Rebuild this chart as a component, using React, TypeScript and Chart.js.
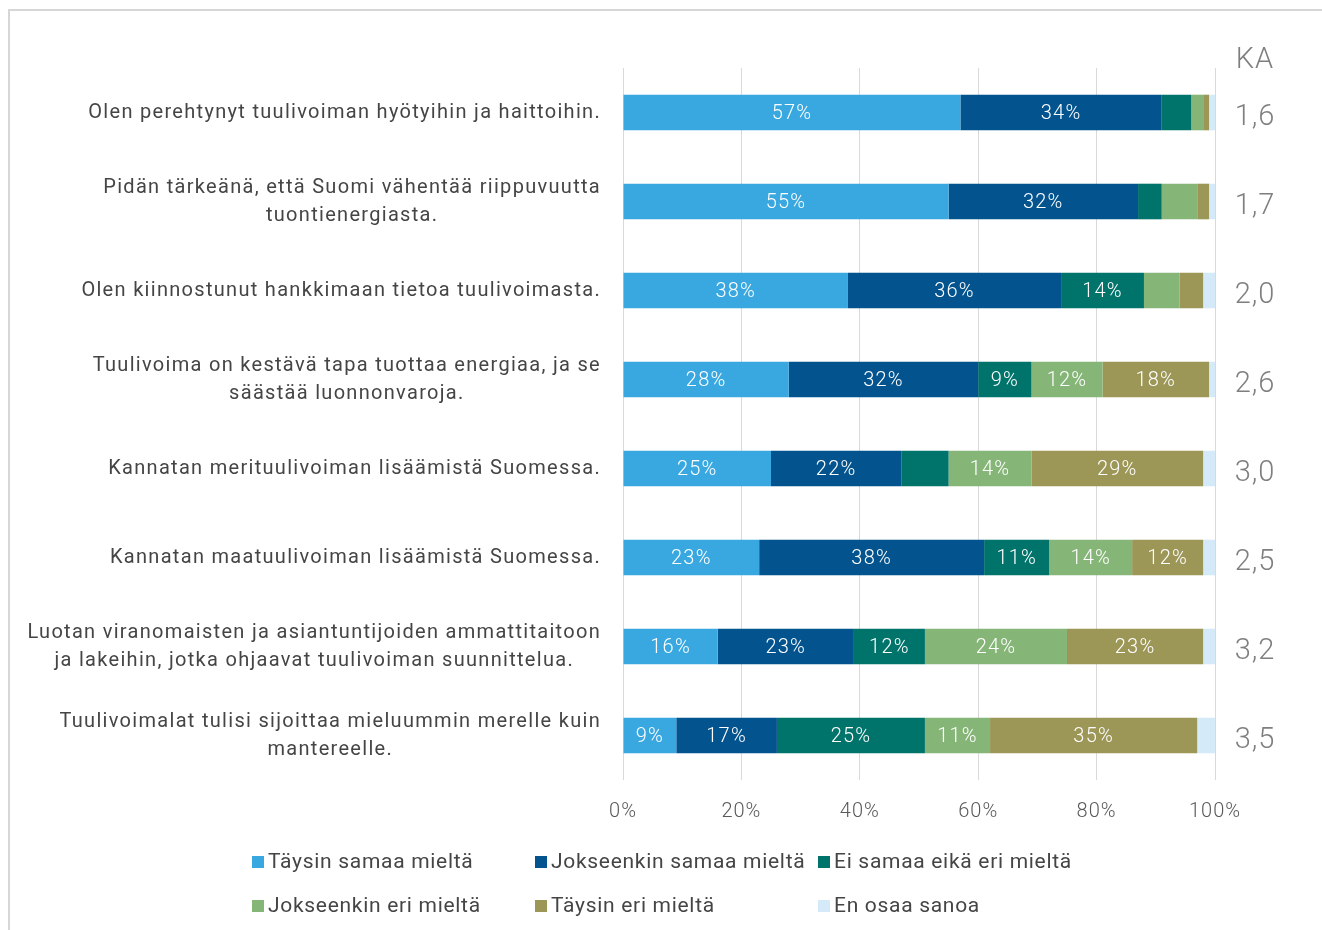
import React, { useEffect, useRef } from "react";
import { Chart, registerables } from "chart.js";

Chart.register(...registerables);

const categories: string[][] = [
  ["Olen perehtynyt tuulivoiman hyötyihin ja haittoihin."],
  ["Pidän tärkeänä, että Suomi vähentää riippuvuutta", "tuontienergiasta."],
  ["Olen kiinnostunut hankkimaan tietoa tuulivoimasta."],
  ["Tuulivoima on kestävä tapa tuottaa energiaa, ja se", "säästää luonnonvaroja."],
  ["Kannatan merituulivoiman lisäämistä Suomessa."],
  ["Kannatan maatuulivoiman lisäämistä Suomessa."],
  ["Luotan viranomaisten ja asiantuntijoiden ammattitaitoon", "ja lakeihin, jotka ohjaavat tuulivoiman suunnittelua."],
  ["Tuulivoimalat tulisi sijoittaa mieluummin merelle kuin", "mantereelle."],
];

const seriesNames = [
  "Täysin samaa mieltä",
  "Jokseenkin samaa mieltä",
  "Ei samaa eikä eri mieltä",
  "Jokseenkin eri mieltä",
  "Täysin eri mieltä",
  "En osaa sanoa",
];

const taysinSamaa = [57, 55, 38, 28, 25, 23, 16, 9];
const jokseenkinSamaa = [34, 32, 36, 32, 22, 38, 23, 17];
const eiSamaaEikaEri = [5, 4, 14, 9, 8, 11, 12, 25];
const jokseenkinEri = [2, 6, 6, 12, 14, 14, 24, 11];
const taysinEri = [1, 2, 4, 18, 29, 12, 23, 35];
const enOsaa = [1, 1, 2, 1, 2, 2, 2, 3];

const kaValues = ["1,6", "1,7", "2,0", "2,6", "3,0", "2,5", "3,2", "3,5"];
const kaTitle = "KA";

const xTicks = [0, 20, 40, 60, 80, 100];

const colors = ["#3AA8E0", "#03538E", "#00746A", "#85B577", "#9C9657", "#D5EAF8"];

const FONT = "Roboto, 'Noto Sans', sans-serif";

const spacingPlugin = {
  id: "spacing",
  beforeDraw(chart: any) {
    (chart.ctx as any).letterSpacing = "1px";
  },
};

const overlayPlugin = {
  id: "overlay",
  afterDatasetsDraw(chart: any) {
    const ctx = chart.ctx;
    const yScale = chart.scales.y;
    const area = chart.chartArea;
    ctx.save();

    // data labels
    ctx.letterSpacing = "1.2px";
    ctx.font = `300 20px ${FONT}`;
    ctx.fillStyle = "#ffffff";
    ctx.textAlign = "center";
    ctx.textBaseline = "middle";
    chart.data.datasets.forEach((ds: any, di: number) => {
      if (di === chart.data.datasets.length - 1) return;
      const meta = chart.getDatasetMeta(di);
      meta.data.forEach((bar: any, i: number) => {
        const v = ds.data[i];
        if (v < 9) return;
        const cx = (bar.x + bar.base) / 2;
        ctx.fillText(v + "%", cx, bar.y + 1);
      });
    });

    // category labels
    ctx.fillStyle = "#454545";
    ctx.font = `400 20px ${FONT}`;
    ctx.letterSpacing = "1.3px";
    const lineH = 28;
    const rightX = area.left - 22;
    categories.forEach((lines, i) => {
      const cy = yScale.getPixelForValue(i);
      const widths = lines.map((l) => ctx.measureText(l).width);
      const maxW = Math.max(...widths);
      const centerX = rightX - maxW / 2;
      ctx.textAlign = "center";
      lines.forEach((l, li) => {
        const y = cy + (li - (lines.length - 1) / 2) * lineH;
        ctx.fillText(l, centerX, y);
      });
    });

    // KA column
    ctx.fillStyle = "#7F7F7F";
    ctx.textAlign = "center";
    ctx.letterSpacing = "1px";
    ctx.font = `300 29px ${FONT}`;
    const kaX = area.right + 40;
    ctx.fillText(kaTitle, kaX, area.top - 7);
    kaValues.forEach((v, i) => {
      ctx.fillText(v, kaX, yScale.getPixelForValue(i) + 5);
    });

    // legend
    ctx.font = `400 21px ${FONT}`;
    ctx.letterSpacing = "0.7px";
    ctx.textAlign = "left";
    const colX = [252, 535, 818];
    const rowY = [862, 906];
    seriesNames.forEach((name, i) => {
      const c = i % 3;
      const r = Math.floor(i / 3);
      const x = colX[c];
      const y = rowY[r];
      ctx.fillStyle = colors[i];
      ctx.fillRect(x, y - 6, 12, 12);
      ctx.fillStyle = "#454545";
      ctx.fillText(name, x + 16, y + 1);
    });

    ctx.restore();
  },
};

export default function App() {
  const ref = useRef<HTMLCanvasElement | null>(null);

  useEffect(() => {
    if (!ref.current) return;
    const seriesData = [taysinSamaa, jokseenkinSamaa, eiSamaaEikaEri, jokseenkinEri, taysinEri, enOsaa];
    const chart = new Chart(ref.current, {
      type: "bar",
      data: {
        labels: categories.map((c) => c.join(" ")),
        datasets: seriesNames.map((name, i) => ({
          label: name,
          data: seriesData[i],
          backgroundColor: colors[i],
          borderWidth: 0,
          barPercentage: 0.8,
          categoryPercentage: 0.5,
        })),
      },
      options: {
        indexAxis: "y",
        responsive: false,
        animation: false,
        layout: { padding: { top: 68, right: 107, left: 0, bottom: 0 } },
        plugins: {
          legend: { display: false },
          tooltip: { enabled: false },
        },
        scales: {
          x: {
            stacked: true,
            min: 0,
            max: 100,
            afterBuildTicks(scale: any) {
              scale.ticks = xTicks.map((v) => ({ value: v }));
            },
            afterFit(scale: any) {
              scale.height = 150;
            },
            grid: { color: "#D9D9D9", lineWidth: 1, drawTicks: false },
            border: { display: false },
            ticks: {
              padding: 20,
              color: "#595959",
              font: { family: FONT, size: 20, weight: "300" },
              callback: (v: any) => v + "%",
            },
          },
          y: {
            stacked: true,
            afterFit(scale: any) {
              scale.width = 623;
            },
            grid: { display: false, drawTicks: false },
            border: { display: false },
            ticks: { display: false },
          },
        },
      },
      plugins: [spacingPlugin, overlayPlugin],
    });
    return () => chart.destroy();
  }, []);

  return (
    <div style={{ position: "absolute", left: 0, top: 0, width: 1322, height: 930, background: "#fff" }}>
      <div
        style={{
          position: "absolute",
          left: 8,
          top: 9,
          width: 1314,
          height: 921,
          borderTop: "2px solid #D6D6D6",
          borderLeft: "2px solid #D6D6D6",
          boxSizing: "border-box",
        }}
      />
      <canvas ref={ref} width={1322} height={930} style={{ position: "absolute", left: 0, top: 0 }} />
    </div>
  );
}
